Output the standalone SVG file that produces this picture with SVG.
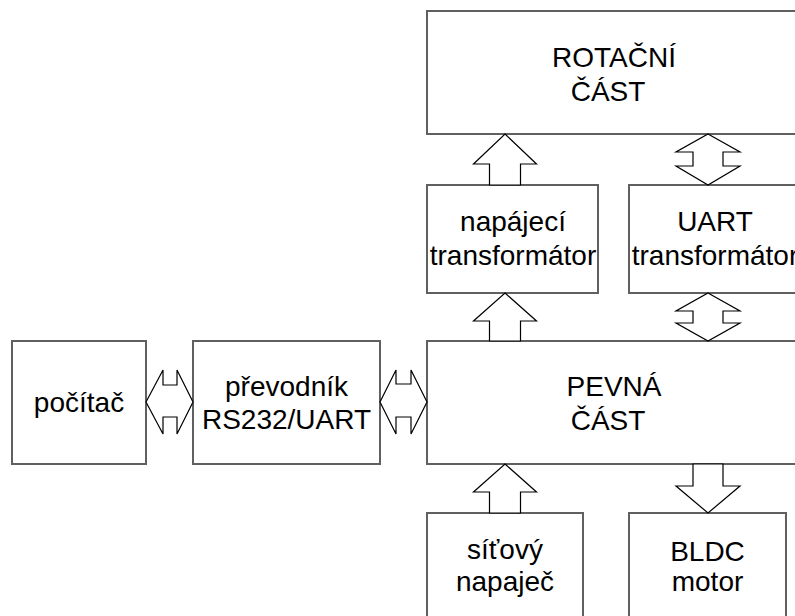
<svg xmlns="http://www.w3.org/2000/svg" width="795" height="616" viewBox="0 0 795 616">
<style>
.box{fill:#fff;stroke:#606060;stroke-width:2}
.arr{fill:#fff;stroke:#000;stroke-width:1.2;stroke-linejoin:miter}
text{font-family:"Liberation Sans",Arial,sans-serif;font-size:28px;fill:#000;text-anchor:middle}
</style>
<rect width="795" height="616" fill="#fff"/>
<g id="rotacni"><rect class="box" x="427" y="11" width="380" height="123"/><text x="614" y="67">ROTAČNÍ</text><text x="608" y="101">ČÁST</text></g>
<g id="napajeci"><rect class="box" x="427" y="185" width="171" height="108"/><text x="513" y="231">napájecí</text><text x="513" y="265">transformátor</text></g>
<g id="uart"><rect class="box" x="629" y="185" width="180" height="108"/><text x="715" y="231">UART</text><text x="715" y="265">transformátor</text></g>
<g id="pevna"><rect class="box" x="427" y="341" width="380" height="123"/><text x="614" y="396">PEVNÁ</text><text x="608" y="430">ČÁST</text></g>
<g id="pocitac"><rect class="box" x="12" y="341" width="134" height="123"/><text x="79" y="412">počítač</text></g>
<g id="prevodnik"><rect class="box" x="193" y="341" width="187" height="123"/><text x="286.5" y="396">převodník</text><text x="286.5" y="429">RS232/UART</text></g>
<g id="sitovy"><rect class="box" x="427" y="513" width="156" height="110"/><text x="505" y="559">síťový</text><text x="505" y="591">napaječ</text></g>
<g id="bldc"><rect class="box" x="629" y="513" width="157" height="110"/><text x="707.5" y="561">BLDC</text><text x="707.5" y="591">motor</text></g>
<g id="connectors">
<path class="arr" d="M505,134 L536.5,164 L520.5,164 L520.5,185 L489.5,185 L489.5,164 L473.5,164 Z"/>
<path class="arr" d="M505,293 L536.5,321 L520.5,321 L520.5,341 L489.5,341 L489.5,321 L473.5,321 Z"/>
<path class="arr" d="M505,464 L536.5,492 L520.5,492 L520.5,513 L489.5,513 L489.5,492 L473.5,492 Z"/>
<path class="arr" d="M708,134 L740,152 L723,152 L723,166 L740,166 L708,185 L676,166 L693,166 L693,152 L676,152 Z"/>
<path class="arr" d="M708,293 L740,311 L723,311 L723,323 L740,323 L708,341 L676,323 L693,323 L693,311 L676,311 Z"/>
<path class="arr" d="M693,464 L723,464 L723,486 L740,486 L708,513 L676,486 L693,486 Z"/>
<path class="arr" d="M146,402 L163,370 L163,385 L177,385 L177,370 L193,402 L177,434 L177,417 L163,417 L163,434 Z"/>
<path class="arr" d="M380,402 L396,370 L396,384 L411,384 L411,370 L427,402 L411,434 L411,417 L396,417 L396,434 Z"/>
</g>
</svg>
